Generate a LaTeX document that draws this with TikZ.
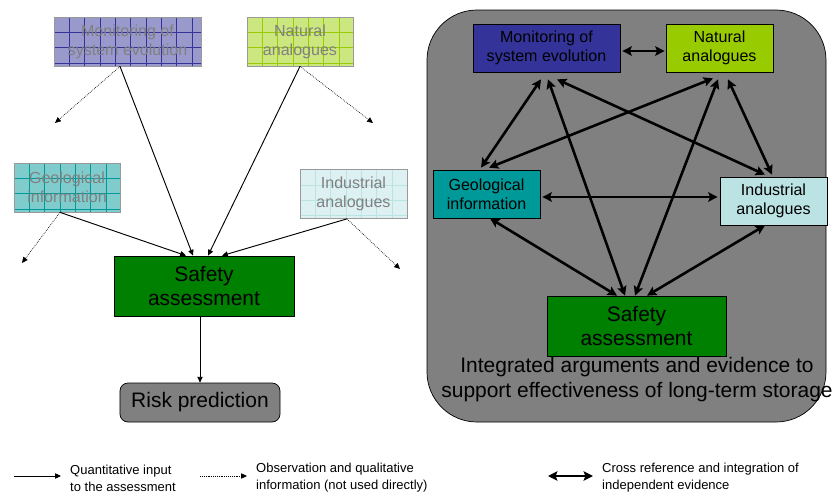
\documentclass[tikz,border=0pt]{standalone}
\usepackage{fontspec}
\setmainfont{Liberation Sans}
\usetikzlibrary{arrows.meta}

\definecolor{monblue}{HTML}{333399}
\definecolor{natgreen}{HTML}{99CC00}
\definecolor{geoteal}{HTML}{009999}
\definecolor{indcyan}{HTML}{BCE3E4}
\definecolor{safegreen}{HTML}{008000}
\definecolor{panelgray}{HTML}{808080}

\begin{document}
\begin{tikzpicture}[x=0.03cm, y=-0.03cm,
  boxtext/.style={font=\fontsize{13.7}{16.2}\selectfont, align=center, inner sep=0pt},
  bigtext/.style={font=\fontsize{17.9}{21.3}\selectfont, align=center, inner sep=0pt},
  legtext/.style={font=\fontsize{11.1}{14.5}\selectfont, align=left, inner sep=0pt, anchor=west},
  srcbox/.style={boxtext, draw=black, line width=0.6pt, fill=#1, minimum height=1.44cm},
  fadebox/.style={boxtext, draw=gray!80, line width=0.6pt, fill=#1!50, text=panelgray,
    minimum height=1.47cm,
    path picture={
      \foreach \k in {1,...,12}
        \draw[#1, line width=0.5pt]
          ([xshift=\k*0.46cm]path picture bounding box.north west) --
          ([xshift=\k*0.46cm]path picture bounding box.south west);
      \foreach \k in {1,...,4}
        \draw[#1, line width=0.5pt]
          ([yshift=-\k*0.46cm]path picture bounding box.north west) --
          ([yshift=-\k*0.46cm]path picture bounding box.north east);
    }},
  safebox/.style={bigtext, draw=black, line width=0.6pt, fill=safegreen,
    minimum width=5.4cm, minimum height=1.8cm},
  riskbox/.style={bigtext, draw=black, line width=0.6pt, fill=panelgray,
    rounded corners=0.24cm, minimum width=4.8cm, minimum height=1.17cm},
  qarrow/.style={-{Triangle[length=5pt,width=4.5pt]}, line width=0.8pt},
  oarrow/.style={-{Triangle[length=5pt,width=4.5pt]}, densely dotted, line width=0.6pt},
  xarrow/.style={{Stealth[length=8pt,width=8pt,inset=1.5pt]}-{Stealth[length=8pt,width=8pt,inset=1.5pt]},
    line width=2.2pt}]
  \useasboundingbox (0,0) rectangle (833,496);

  % Left: assessment on its own
  \node[fadebox=monblue, minimum width=4.41cm] (lmon) at (127.5,41.5) {Monitoring of\\system evolution};
  \node[fadebox=natgreen, minimum width=3.18cm] (lnat) at (300,41.5) {Natural\\analogues};
  \node[fadebox=geoteal, minimum width=3.18cm] (lgeo) at (67,187.5) {Geological\\information};
  \node[fadebox=indcyan, minimum width=3.21cm] (lind) at (353.5,194) {Industrial\\analogues};
  \node[safebox] (lsafe) at (204,286) {Safety\\assessment};
  \node[riskbox] (risk) at (200,402.5) {Risk prediction};

  \draw[qarrow] ([xshift=-0.225cm]lmon.south) -- ([xshift=-0.33cm]lsafe.north);
  \draw[qarrow] (lnat.south) -- ([xshift=0.12cm]lsafe.north);
  \draw[qarrow] ([xshift=-0.21cm]lgeo.south) -- ([xshift=-0.54cm]lsafe.north);
  \draw[qarrow] ([xshift=-0.195cm]lind.south) -- ([xshift=0.54cm]lsafe.north);
  \draw[qarrow] (lsafe.south -| risk.north) -- (risk.north);

  % Observations not used directly
  \coordinate (omon) at (55,123);
  \coordinate (onat) at (373,123);
  \coordinate (ogeo) at (22,263);
  \coordinate (oind) at (400,269);
  \draw[oarrow] ([xshift=-0.225cm]lmon.south) -- (omon);
  \draw[oarrow] (lnat.south) -- (onat);
  \draw[oarrow] ([xshift=-0.21cm]lgeo.south) -- (ogeo);
  \draw[oarrow] ([xshift=-0.195cm]lind.south) -- (oind);

  % Right: integrated evidence
  \draw[fill=panelgray, line width=0.6pt, rounded corners=1.5cm] (427,10) rectangle (826,422);
  \node[srcbox=monblue, minimum width=4.41cm] (rmon) at (546.5,48) {Monitoring of\\system evolution};
  \node[srcbox=natgreen, minimum width=3.21cm] (rnat) at (719.5,48) {Natural\\analogues};
  \node[srcbox=geoteal, minimum width=3.21cm] (rgeo) at (486.5,194) {Geological\\information};
  \node[srcbox=indcyan, minimum width=3.21cm] (rind) at (773.5,201) {Industrial\\analogues};
  \node[safebox, minimum width=5.37cm] (rsafe) at (636.5,326) {Safety\\assessment};
  \node[bigtext] (claim) at (637,380) {Integrated arguments and evidence to\\support effectiveness of long-term storage};

  \draw[xarrow] ([xshift=0.06cm,yshift=-0.09cm]rmon.east) -- ([xshift=-0.03cm,yshift=-0.09cm]rnat.west);
  \draw[xarrow] ([xshift=-0.165cm,yshift=0.06cm]rgeo.north) -- ([xshift=-0.165cm,yshift=-0.21cm]rmon.south);
  \draw[xarrow] ([xshift=0.075cm,yshift=0.06cm]rgeo.north) -- ([xshift=-0.195cm,yshift=-0.18cm]rnat.south);
  \draw[xarrow] ([xshift=0.06cm,yshift=-0.09cm]rgeo.east) -- ([xshift=-0.06cm,yshift=0.12cm]rind.west);
  \draw[xarrow] ([xshift=0.045cm,yshift=-0.21cm]rmon.south) -- ([xshift=-0.345cm]rsafe.north);
  \draw[xarrow] ([xshift=0.315cm,yshift=-0.21cm]rmon.south) -- ([xshift=-0.255cm,yshift=0.06cm]rind.north);
  \draw[xarrow] ([xshift=-0.045cm,yshift=-0.21cm]rnat.south) -- ([xshift=-0.045cm]rsafe.north);
  \draw[xarrow] ([xshift=0.255cm,yshift=-0.21cm]rnat.south) -- ([xshift=-0.045cm,yshift=0.06cm]rind.north);
  \draw[xarrow] ([xshift=0.105cm]rgeo.south) -- ([xshift=-0.585cm]rsafe.north);
  \draw[xarrow] ([xshift=-0.255cm]rind.south) -- ([xshift=0.315cm]rsafe.north);

  % Legend
  \node[legtext] (legq) at (70,478) {Quantitative input\\to the assessment};
  \node[legtext] (lego) at (256,478) {Observation and qualitative\\information (not used directly)};
  \node[legtext] (legc) at (602,478) {Cross reference and integration of\\independent evidence};
  \coordinate (qa) at (14,476);
  \coordinate (oa) at (200,476);
  \coordinate (ca) at (548,476);
  \draw[qarrow] (qa) -- ([xshift=-0.27cm,yshift=0.06cm]legq.west);
  \draw[oarrow] (oa) -- ([xshift=-0.27cm,yshift=0.06cm]lego.west);
  \draw[xarrow] (ca) -- ([xshift=-0.27cm,yshift=0.06cm]legc.west);
\end{tikzpicture}
\end{document}
